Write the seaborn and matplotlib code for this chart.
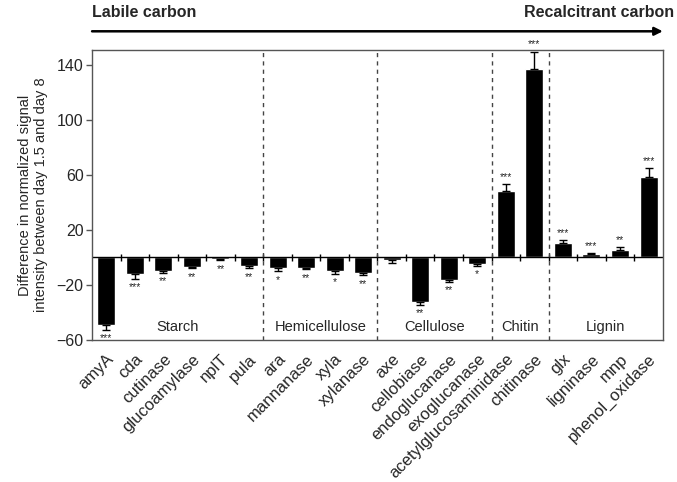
"""
Difference in normalized signal intensity between day 1.5 and day 8, by enzyme gene.
"""

import numpy as np
import pandas as pd
import matplotlib
matplotlib.use("Agg")
import matplotlib.pyplot as plt
import seaborn as sns

genes = ["amyA", "cda", "cutinase", "glucoamylase", "nplT", "pula",
         "ara", "mannanase", "xyla", "xylanase",
         "axe", "cellobiase", "endoglucanase", "exoglucanase",
         "acetylglucosaminidase", "chitinase",
         "glx", "ligninase", "mnp", "phenol_oxidase"]
values = [-49.5, -12, -9.6, -7, -1.5, -6.5,
          -7.6, -7.6, -10, -11.5,
          -1.8, -32.6, -16.4, -4.7,
          48.6, 137.6,
          10.8, 2.5, 5.2, 58.8]
errors = [3, 3.5, 1.5, 1, 0.5, 1.5,
          2.5, 1, 2, 1.5,
          2, 2, 1.5, 1.5,
          4.6, 12.4,
          2, 0.5, 2.2, 6]
stars = ["***", "***", "**", "**", "**", "**",
         "*", "**", "*", "**",
         "", "**", "**", "*",
         "***", "***",
         "***", "***", "**", "***"]
groups = ["Starch", "Hemicellulose", "Cellulose", "Chitin", "Lignin"]
group_sizes = [6, 4, 4, 2, 4]

df = pd.DataFrame({"gene": genes, "value": values})

sns.set_style("white")
plt.rcParams["font.family"] = ["Liberation Sans", "DejaVu Sans"]

fig = plt.figure(figsize=(6.77, 4.82), dpi=100)
ax = fig.add_axes([0.136, 0.295, 0.843, 0.601])

sns.barplot(data=df, x="gene", y="value", color="black", width=0.63,
            saturation=1, ax=ax, errorbar=None)

x = np.arange(len(genes))
vals = np.array(values)
errs = np.array(errors)
lower = np.where(vals < 0, errs, 0)
upper = np.where(vals > 0, errs, 0)
ax.errorbar(x, vals, yerr=[lower, upper], fmt="none", ecolor="black",
            elinewidth=1, capsize=3, capthick=1)

# significance stars beyond the error bar
for xi, v, e, s in zip(x, vals, errs, stars):
    if not s:
        continue
    if v < 0:
        ax.text(xi, v - e - 2.5, s, ha="center", va="top", fontsize=7.5)
    else:
        ax.text(xi, v + e + 1.5, s, ha="center", va="bottom", fontsize=7.5)

ax.set_xlim(-0.5, len(genes) - 0.5)
ax.set_ylim(-60, 151)
ax.set_yticks([-60, -20, 20, 60, 100, 140])

# zero line with category ticks
ax.axhline(0, color="black", lw=1)
ax.vlines(np.arange(len(genes) - 1) + 0.5, -2.8, 2.8, color="black", lw=1)

# group separators and labels
bounds = np.cumsum(group_sizes)
start = 0
for name, b in zip(groups, bounds):
    if b < len(genes):
        ax.axvline(b - 0.5, color="#444444", lw=1, ls=(0, (3, 3)))
    ax.text((start + b - 1) / 2, -51, name, ha="center", va="center", fontsize=10.5)
    start = b

for sp in ax.spines.values():
    sp.set_color("#555555")
    sp.set_linewidth(1)

ax.tick_params(axis="y", left=True, length=4, width=1, color="#555555",
               labelsize=11.5, pad=2)
ax.tick_params(axis="x", bottom=False, labelsize=12, pad=5)
plt.setp(ax.get_xticklabels(), rotation=45, ha="right", rotation_mode="anchor")
ax.set_xlabel("")
ax.set_ylabel("Difference in normalized signal\nintensity between day 1.5 and day 8",
              fontsize=10.5, labelpad=6)

# carbon gradient arrow
ax.annotate("", xy=(1.0, 1.065), xytext=(0.0, 1.065), xycoords="axes fraction",
            arrowprops=dict(arrowstyle="-|>", color="black", lw=1.8,
                            mutation_scale=12, shrinkA=0, shrinkB=0))
ax.text(0.0, 1.105, "Labile carbon", transform=ax.transAxes, ha="left",
        va="bottom", fontsize=11.5, fontweight="bold")
ax.text(1.02, 1.105, "Recalcitrant carbon", transform=ax.transAxes, ha="right",
        va="bottom", fontsize=11.5, fontweight="bold")

plt.savefig("out.png", dpi=100)
